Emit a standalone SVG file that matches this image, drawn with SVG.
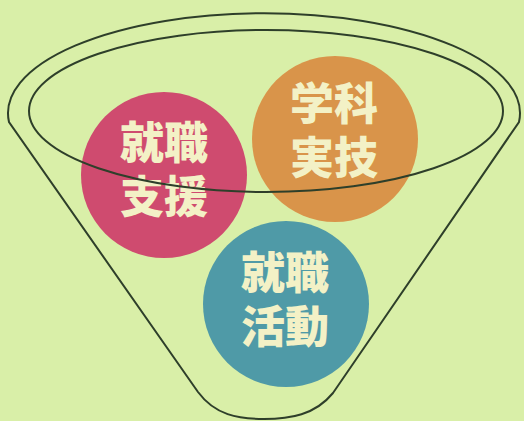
<svg xmlns="http://www.w3.org/2000/svg" width="524" height="421" viewBox="0 0 524 421">
<style>
.bg{fill:#d9efa8}
.circ{stroke:none}
.lbl{font-family:"Noto Sans CJK JP","Noto Sans CJK SC",sans-serif;font-weight:900;font-size:44px;fill:#f3f1c6;text-anchor:middle}
.line{fill:none;stroke:#2e3f2a;stroke-width:2}
</style>
<rect class="bg" x="0" y="0" width="524" height="421"/>
<g id="funnel-body">
<path class="line" d="M9,122 A256,100 0 1 1 519,122 L333,393 C315,415 290,419 264,419 C238,419 215,415 198,392 Z"/>
</g>
<g id="node-katsudo">
<circle class="circ" cx="286" cy="304" r="83" fill="#4f9aa7"/>
<text class="lbl" x="285" y="289">就職</text>
<text class="lbl" x="285" y="343">活動</text>
</g>
<g id="node-jitsugi">
<circle class="circ" cx="335" cy="139" r="83" fill="#d9944a"/>
<text class="lbl" x="334" y="120">学科</text>
<text class="lbl" x="334" y="174">実技</text>
</g>
<g id="node-shien">
<circle class="circ" cx="164" cy="175" r="83" fill="#cf4b6f"/>
<text class="lbl" x="164" y="159">就職</text>
<text class="lbl" x="164" y="213">支援</text>
</g>
<g id="connectors">
<ellipse class="line" cx="266" cy="111" rx="237" ry="81"/>
</g>
</svg>
